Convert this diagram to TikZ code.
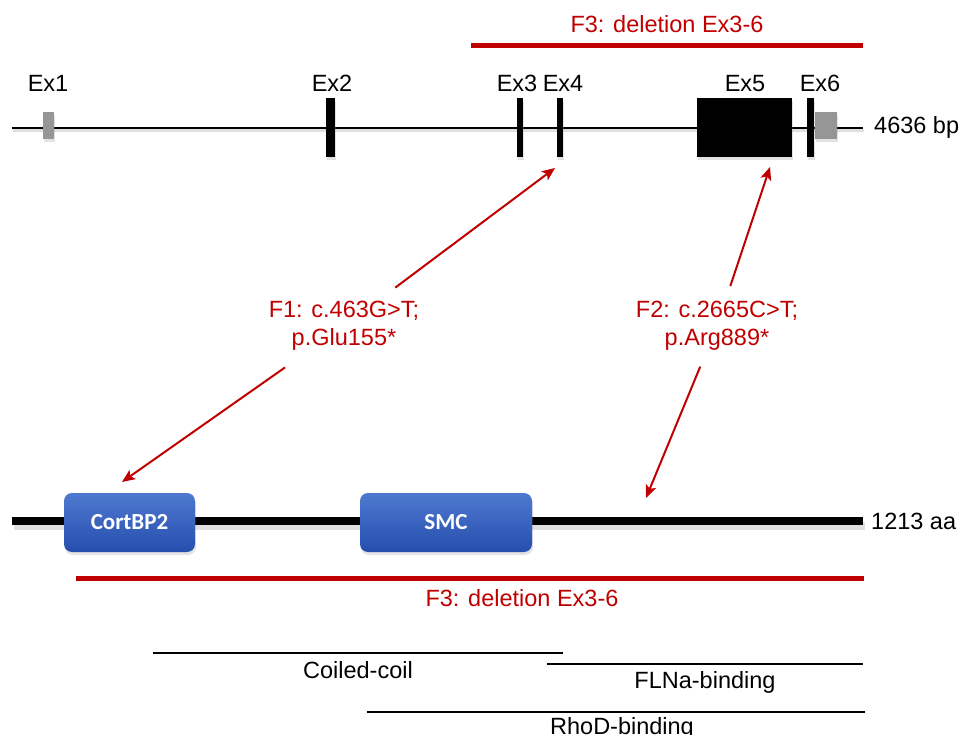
\documentclass[tikz,border=0pt]{standalone}
\usepackage{fontspec}
\setmainfont{Liberation Sans}
\newfontfamily\boxfont{Carlito}
\usetikzlibrary{arrows.meta,shadows}
\definecolor{mutred}{RGB}{192,0,0}
\definecolor{boxtop}{RGB}{78,121,208}
\definecolor{boxbot}{RGB}{38,78,174}
\definecolor{utrgray}{RGB}{150,150,150}
\begin{document}
\begin{tikzpicture}[x=1pt,y=-1pt,
  lbl/.style={font=\fontsize{23.5}{28}\selectfont, inner sep=0pt},
  redlbl/.style={lbl, text=mutred, align=center},
  shad/.style={drop shadow={opacity=0.22, shadow xshift=1pt, shadow yshift=-3pt}},
  exon/.style={fill=black, draw=none, inner sep=0pt, shad},
  utr/.style={fill=utrgray, draw=none, inner sep=0pt, shad},
  dombox/.style={rounded corners=8pt, top color=boxtop, bottom color=boxbot, draw=none,
    text=white, font=\boxfont\bfseries\fontsize{23}{28}\selectfont, inner sep=0pt,
    minimum height=59pt, shad},
  redbar/.style={draw=mutred, line width=5pt},
  arr/.style={draw=mutred, line width=2pt, -{Stealth[length=13pt,width=11pt,inset=3pt]}},
  regline/.style={draw=black, line width=2pt},
  lineshadow/.style={draw=black, opacity=0.12}
]
\useasboundingbox (0,0) rectangle (962,735);

% ---------- gene ----------
\coordinate (gL) at (12,128);
\coordinate (gR) at (863,128);
\coordinate (gLs) at (13,131);
\coordinate (gRs) at (864,131);
\draw[lineshadow, line width=3pt] (gLs) -- (gRs);
\draw[line width=2pt] (gL) -- (gR);
\node[lbl, anchor=base west] (bp) at (874,134) {4636 bp};

\node[utr, minimum width=11pt, minimum height=27pt] (ex1) at (48.5,125.5) {};
\node[exon, minimum width=9pt, minimum height=59pt] (ex2) at (330.5,127.5) {};
\node[exon, minimum width=6pt, minimum height=59pt] (ex3) at (520,127.5) {};
\node[exon, minimum width=6pt, minimum height=59pt] (ex4) at (560,127.5) {};
\node[exon, minimum width=95pt, minimum height=59pt] (ex5) at (744.5,127.5) {};
\node[utr, minimum width=22pt, minimum height=27pt] (utr3) at (826,125.5) {};
\node[exon, minimum width=7pt, minimum height=59pt] (ex6) at (810.5,127.5) {};

\node[lbl, anchor=base] (ex1l) at (48,92) {Ex1};
\node[lbl, anchor=base] (ex2l) at (332,92) {Ex2};
\node[lbl, anchor=base] (ex3l) at (517,92) {Ex3};
\node[lbl, anchor=base] (ex4l) at (563,92) {Ex4};
\node[lbl, anchor=base] (ex5l) at (745,92) {Ex5};
\node[lbl, anchor=base] (ex6l) at (820,92) {Ex6};

% top deletion bar
\coordinate (t3a) at (471,46);
\coordinate (t3b) at (863,46);
\draw[redbar] (t3a) -- (t3b);
\node[redlbl, anchor=base] (t3l) at (667,33) {F3: deletion Ex3-6};

% ---------- protein ----------
\coordinate (pL) at (12,521);
\coordinate (pR) at (863,521);
\coordinate (pLs) at (14,526);
\coordinate (pRs) at (865,526);
\draw[lineshadow, line width=8pt] (pLs) -- (pRs);
\draw[line width=8pt] (pL) -- (pR);
\node[lbl, anchor=base west] (aa) at (871,529) {1213 aa};

\node[dombox, minimum width=131pt] (cort) at (129.5,522.5) {CortBP2};
\node[dombox, minimum width=172pt] (smc) at (446,522.5) {SMC};

% bottom deletion bar
\coordinate (b3a) at (76,578);
\coordinate (b3b) at (864,578);
\draw[redbar] (b3a) -- (b3b);
\node[redlbl, anchor=base] (b3l) at (522,606) {F3: deletion Ex3-6};

% ---------- mutations ----------
\node[redlbl] (f1) at (344,326) {F1: c.463G>T;\\p.Glu155*};
\node[redlbl] (f2) at (717,326) {F2: c.2665C>T;\\p.Arg889*};
\coordinate (m1) at (555,168);
\coordinate (p1) at (122,482);
\coordinate (m2) at (770,167);
\coordinate (p2) at (646,498);
\draw[arr, shorten <=64pt] (f1.center) -- (m1);
\draw[arr, shorten <=72pt] (f1.center) -- (p1);
\draw[arr, shorten <=42pt] (f2.center) -- (m2);
\draw[arr, shorten <=44pt] (f2.center) -- (p2);

% ---------- regions ----------
\coordinate (cc1) at (153,653);
\coordinate (cc2) at (563,653);
\draw[regline] (cc1) -- (cc2);
\node[lbl, anchor=base] (ccl) at (358,678) {Coiled-coil};
\coordinate (fl1) at (547,664);
\coordinate (fl2) at (863,664);
\draw[regline] (fl1) -- (fl2);
\node[lbl, anchor=base] (fll) at (705,688) {FLNa-binding};
\coordinate (rh1) at (367,712);
\coordinate (rh2) at (865,712);
\draw[regline] (rh1) -- (rh2);
\node[lbl, anchor=base] (rhl) at (622,734) {RhoD-binding};
\end{tikzpicture}
\end{document}
